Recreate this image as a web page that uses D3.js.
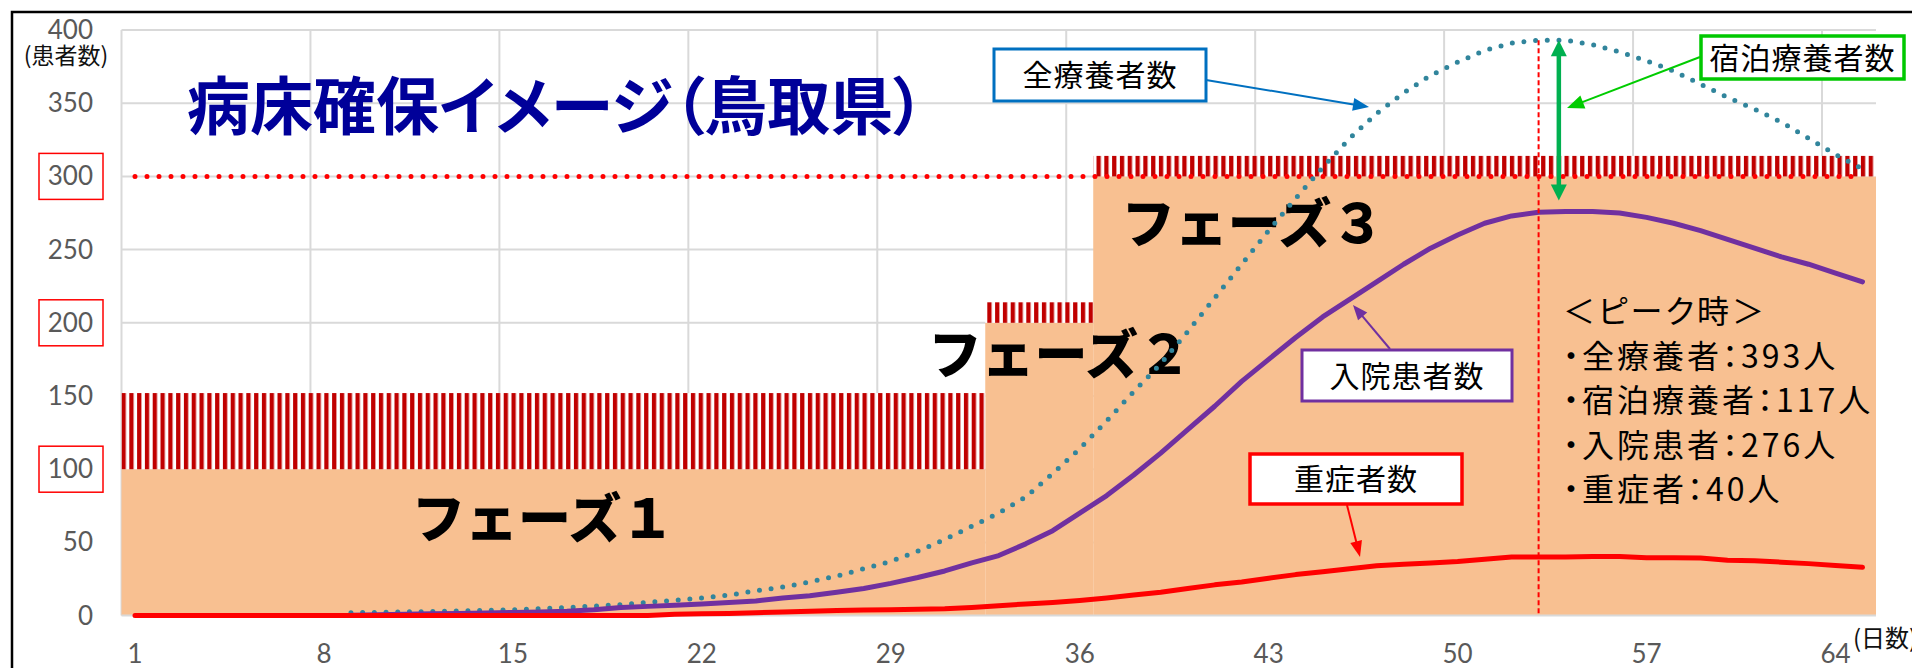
<!DOCTYPE html>
<html>
<head>
<meta charset="utf-8">
<script src="https://cdn.jsdelivr.net/npm/d3@7"></script>
<style>
  body { margin: 0; background: #fff; }
  svg { display: block; }
  .cjk { font-family: "Noto Sans CJK JP", "Noto Sans", sans-serif; }
  .tick { font-family: Lato, "Open Sans", sans-serif; fill: #595959; }
</style>
</head>
<body>
<svg id="chart" width="1912" height="668"></svg>
<script>
// ---- data ----
const DAYS = [1,2,3,4,5,6,7,8,9,10,11,12,13,14,15,16,17,18,19,20,21,22,23,24,25,26,27,28,29,30,
  31,32,33,34,35,36,37,38,39,40,41,42,43,44,45,46,47,48,49,50,51,52,53,54,55,56,57,58,59,60,
  61,62,63,64,65];

// 全療養者数
const TOTAL = [null,null,null,null,null,null,null,null,2,2.2,2.5,2.8,3.2,3.6,4,4.8,5.5,6.5,7.5,9,
  10.5,12,14,17,19.5,23,27,32,37,44,52,61,70,81,97,114,133,153,172,194,217,240,263,285,306,326,
  343,357,369,378,386,391,393,393,390,385,379,372,363,354,346,337,326,315,305];

// 入院患者数
const HOSPITAL = [null,null,null,null,null,null,null,null,0.3,0.6,0.9,1.2,1.5,1.8,2.1,2.5,3,4,5.5,
  6.3,7,8,9,10,12,13.5,16,18.5,22,26,30.5,36,41,49,58,70,82,96,111,127,143,160,175,190,204,216,
  228,240,251,260,268,273,275.5,276,276,275,272,268,263,257,251,245,240,234,228];

// 重症者数
const SEVERE = [0,0,0,0,0,0,0,0,0,0,0,0,0,0,0,0,0,0,0,0,1,1.2,1.5,2,2.5,3,3.5,3.8,4,4.3,4.6,5.5,
  6.8,8,9,10.3,12,14,16,18.5,21,23,25.5,28,30,32,34,35,36,37,38.5,40,40,40,40.4,40.3,39.5,39.5,
  39.3,37.8,37.5,36.5,35.5,34.3,33];

const PHASE_LABELS    = ["フェーズ１", "フェーズ２", "フェーズ３"];
const PHASE_FIRST_DAY = [1, 33, 37];
const PHASE_LAST_DAY  = [32, 36, 65];
const PHASE_BEDS      = [100, 200, 300];
const PHASE_RESERVE   = [52, 14, 14];
const BED_TARGET      = 300;

const PEAK_DAY      = 53;
const PEAK_TOTAL    = 393;
const PEAK_HOSPITAL = 276;
const PEAK_LINES = ["＜ピーク時＞", "・全療養者：393人", "・宿泊療養者：117人", "・入院患者：276人", "・重症者：40人"];

const Y_TICKS     = [0, 50, 100, 150, 200, 250, 300, 350, 400];
const BOXED_TICKS = [100, 200, 300];
const X_TICKS     = [1, 8, 15, 22, 29, 36, 43, 50, 57, 64];

// ---- layout ----
const W = 1912, H = 668;
const PLOT = { left: 121.5, right: 1876, top: 30, bottom: 615.6 };
const C_ORANGE = "#f8c091", C_HATCH = "#c00000", C_RED = "#ff0000";
const C_TEAL = "#31859c", C_PURPLE = "#7030a0", C_BLUE = "#0070c0";
const C_GREEN = "#00b050", C_GREEN_BOX = "#00c800", C_GRID = "#d9d9d9";

const svg = d3.select("#chart");

const x = d3.scaleLinear().domain([0.5, DAYS.length + 0.5]).range([PLOT.left, PLOT.right]);
const y = d3.scaleLinear().domain([0, 400]).range([PLOT.bottom, PLOT.top]);

// hatch pattern
const defs = svg.append("defs");
const pat = defs.append("pattern")
  .attr("id", "vhatch").attr("patternUnits", "userSpaceOnUse")
  .attr("x", PLOT.left).attr("width", 7.8).attr("height", 10);
pat.append("rect").attr("width", 7.8).attr("height", 10).attr("fill", "#fff");
pat.append("rect").attr("width", 4.3).attr("height", 10).attr("fill", C_HATCH);

// outer frame
svg.append("rect")
  .attr("x", 12).attr("y", 12).attr("width", W + 50).attr("height", H + 50)
  .attr("fill", "none").attr("stroke", "#000").attr("stroke-width", 2.5);

// gridlines
const grid = svg.append("g").attr("stroke", C_GRID).attr("stroke-width", 2);
grid.selectAll("line.h").data(Y_TICKS.filter(v => v > 0)).join("line")
  .attr("x1", PLOT.left).attr("x2", PLOT.right)
  .attr("y1", d => y(d)).attr("y2", d => y(d));
const vGrid = d3.range(0, DAYS.length, 7).map(i => i + 0.5);
grid.selectAll("line.v").data(vGrid).join("line")
  .attr("x1", d => x(d)).attr("x2", d => x(d))
  .attr("y1", PLOT.top).attr("y2", PLOT.bottom);

// phase areas
const phases = PHASE_LABELS.map((label, i) => ({
  label, first: PHASE_FIRST_DAY[i], last: PHASE_LAST_DAY[i],
  beds: PHASE_BEDS[i], reserve: PHASE_RESERVE[i]
}));
svg.append("g").selectAll("rect").data(phases).join("rect")
  .attr("x", d => x(d.first - 0.5))
  .attr("width", d => x(d.last + 0.5) - x(d.first - 0.5))
  .attr("y", d => y(d.beds))
  .attr("height", d => y(0) - y(d.beds))
  .attr("fill", C_ORANGE);
svg.append("g").selectAll("rect").data(phases).join("rect")
  .attr("x", d => x(d.first - 0.5))
  .attr("width", d => x(d.last + 0.5) - x(d.first - 0.5))
  .attr("y", d => y(d.beds + d.reserve))
  .attr("height", d => y(d.beds) - y(d.beds + d.reserve))
  .attr("fill", "url(#vhatch)");

// baseline
svg.append("line")
  .attr("x1", PLOT.left).attr("x2", PLOT.right)
  .attr("y1", y(0)).attr("y2", y(0))
  .attr("stroke", C_GRID).attr("stroke-width", 2);

// bed target dotted line
svg.append("line")
  .attr("x1", x(DAYS[0])).attr("x2", x(DAYS[DAYS.length - 1]))
  .attr("y1", y(BED_TARGET)).attr("y2", y(BED_TARGET))
  .attr("stroke", C_RED).attr("stroke-width", 5)
  .attr("stroke-linecap", "round").attr("stroke-dasharray", "0 12");

// y axis labels
svg.append("g").selectAll("text").data(Y_TICKS).join("text")
  .attr("class", "tick")
  .attr("x", 93).attr("y", d => y(d) + 9)
  .attr("text-anchor", "end").attr("font-size", 26)
  .text(d => d);
svg.append("g").selectAll("rect").data(BOXED_TICKS).join("rect")
  .attr("x", 39).attr("y", d => y(d) - 23)
  .attr("width", 64).attr("height", 46)
  .attr("fill", "none").attr("stroke", C_RED).attr("stroke-width", 1.5);
svg.append("text").attr("class", "cjk")
  .attr("x", 66).attr("y", 64).attr("text-anchor", "middle")
  .attr("font-size", 23).attr("fill", "#111")
  .text("(患者数)");

// x axis labels
svg.append("g").selectAll("text").data(X_TICKS).join("text")
  .attr("class", "tick")
  .attr("x", d => x(d)).attr("y", 663)
  .attr("text-anchor", "middle").attr("font-size", 26)
  .text(d => d);
svg.append("text").attr("class", "cjk")
  .attr("x", 1853).attr("y", 647)
  .attr("font-size", 24).attr("fill", "#111")
  .text("(日数)");

// title
svg.append("text").attr("class", "cjk")
  .attr("x", 187).attr("y", 129)
  .attr("font-size", 63).attr("font-weight", 700)
  .style("font-feature-settings", '"palt"')
  .attr("fill", "#000099")
  .text("病床確保イメージ（鳥取県）");

// phase labels
const PHASE_LABEL_POS = [[11.26, 66.7], [30.4, 178.7], [37.56, 268]];
svg.append("g").selectAll("text").data(phases).join("text")
  .attr("class", "cjk")
  .attr("x", (d, i) => x(PHASE_LABEL_POS[i][0]))
  .attr("y", (d, i) => y(PHASE_LABEL_POS[i][1]) + 20)
  .attr("font-size", 53).attr("font-weight", 900)
  .attr("fill", "#000")
  .text(d => d.label);

// series lines
const line = d3.line()
  .defined(d => d[1] != null)
  .x(d => x(d[0])).y(d => y(d[1]));
const series = [
  { values: TOTAL, color: C_TEAL, dash: "0 11.7" },
  { values: HOSPITAL, color: C_PURPLE, dash: null },
  { values: SEVERE, color: C_RED, dash: null },
];
series.forEach(s => {
  svg.append("path")
    .datum(DAYS.map((d, i) => [d, s.values[i]]))
    .attr("d", line)
    .attr("fill", "none")
    .attr("stroke", s.color)
    .attr("stroke-width", 5)
    .attr("stroke-linejoin", "round")
    .attr("stroke-linecap", "round")
    .attr("stroke-dasharray", s.dash);
});

// peak marker
svg.append("line")
  .attr("x1", x(PEAK_DAY)).attr("x2", x(PEAK_DAY))
  .attr("y1", y(PEAK_TOTAL)).attr("y2", y(0))
  .attr("stroke", C_RED).attr("stroke-width", 2)
  .attr("stroke-dasharray", "5 3");

function arrowHead(g, x1, y1, x2, y2, len, wid, color) {
  const a = Math.atan2(y2 - y1, x2 - x1);
  const bx = x2 - len * Math.cos(a), by = y2 - len * Math.sin(a);
  const px = Math.sin(a) * wid / 2, py = -Math.cos(a) * wid / 2;
  g.append("path")
    .attr("d", `M${x2},${y2}L${bx + px},${by + py}L${bx - px},${by - py}Z`)
    .attr("fill", color);
}
function arrow(x1, y1, x2, y2, color, sw, len, wid) {
  const g = svg.append("g");
  const a = Math.atan2(y2 - y1, x2 - x1);
  g.append("line")
    .attr("x1", x1).attr("y1", y1)
    .attr("x2", x2 - len * 0.8 * Math.cos(a)).attr("y2", y2 - len * 0.8 * Math.sin(a))
    .attr("stroke", color).attr("stroke-width", sw);
  arrowHead(g, x1, y1, x2, y2, len, wid, color);
}

// green double arrow (宿泊療養者)
{
  const ax = x(PEAK_DAY + 0.75);
  const top = y(PEAK_TOTAL), bot = y(PEAK_HOSPITAL) - 11;
  const g = svg.append("g");
  g.append("line").attr("x1", ax).attr("x2", ax)
    .attr("y1", top + 12).attr("y2", bot - 12)
    .attr("stroke", C_GREEN).attr("stroke-width", 4.5);
  arrowHead(g, ax, bot, ax, top, 16, 16, C_GREEN);
  arrowHead(g, ax, top, ax, bot, 16, 16, C_GREEN);
}

// callouts
function callout(bx, by, bw, bh, color, sw, label) {
  svg.append("rect")
    .attr("x", bx).attr("y", by).attr("width", bw).attr("height", bh)
    .attr("fill", "#fff").attr("stroke", color).attr("stroke-width", sw);
  svg.append("text").attr("class", "cjk")
    .attr("x", bx + bw / 2).attr("y", by + bh / 2 + 11)
    .attr("text-anchor", "middle").attr("font-size", 30)
    .attr("letter-spacing", 1).attr("fill", "#000")
    .text(label);
}
arrow(1206, 80, 1369, 107, C_BLUE, 2, 16, 13);
callout(994, 49, 212, 52, C_BLUE, 3, "全療養者数");

arrow(1700, 57, 1567, 108, "#00cc00", 2, 17, 14);
callout(1701, 36, 203, 43, C_GREEN_BOX, 3.5, "宿泊療養者数");

arrow(1390, 349, 1353, 305, C_PURPLE, 2, 15, 12);
callout(1302, 350, 210, 51, C_PURPLE, 3, "入院患者数");

arrow(1347, 505, 1360, 557, C_RED, 2, 16, 12);
callout(1250, 454, 212, 50, C_RED, 3.5, "重症者数");

// peak summary
svg.append("g").selectAll("text").data(PEAK_LINES).join("text")
  .attr("class", "cjk")
  .attr("x", 1563).attr("y", (d, i) => 323 + i * 44.5)
  .attr("font-size", 32).attr("letter-spacing", 3)
  .style("font-feature-settings", '"palt"')
  .attr("fill", "#000")
  .text(d => d);
</script>
</body>
</html>
